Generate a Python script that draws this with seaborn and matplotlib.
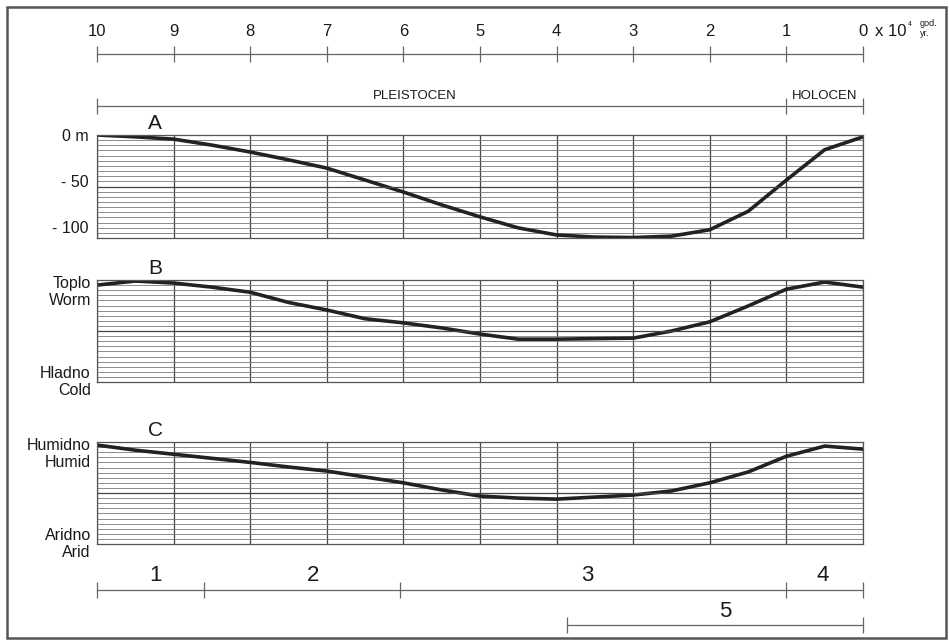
import numpy as np
import pandas as pd
import matplotlib.pyplot as plt
import seaborn as sns
from matplotlib.patches import Rectangle

# time axis, x 10^4 years before present
years = [10, 9.5, 9, 8.5, 8, 7.5, 7, 6.5, 6, 5.5, 5, 4.5, 4, 3.5, 3, 2.5, 2, 1.5, 1, 0.5, 0]
time_ticks = [10, 9, 8, 7, 6, 5, 4, 3, 2, 1, 0]

# A: sea level (m)
sea_level = [0, -2, -4.5, -11, -18.5, -27, -36, -49, -62, -76, -89, -101, -108.7, -111,
             -111.5, -110, -103, -83, -49, -16, -2]
# B: temperature, C: humidity (0 = cold/arid, 100 = warm/humid)
temperature = [95, 99, 97, 93, 88, 78, 70.6, 62, 58, 53, 47, 42, 42, 42.5, 43, 50, 59,
               74.5, 91, 98, 93]
humidity = [97, 92, 88, 84, 80, 75.5, 71.5, 65.7, 60, 53, 47, 45, 44, 46, 48, 52, 60,
            70.6, 86, 96, 93]

epochs = ['PLEISTOCEN', 'HOLOCEN']
epoch_bounds = [10, 1, 0]
epoch_label_x = [5.85, 0.5]

stage_labels = ['1', '2', '3', '4']
stage_bounds = [10, 8.6, 6.05, 1, 0]
stage_label_x = [9.24, 7.18, 3.6, 0.52]
stage5 = [3.86, 0]
stage5_label_x = 1.8

df = pd.DataFrame({'t': years, 'A': sea_level, 'B': temperature, 'C': humidity})

sns.set_theme(style='white')
plt.rcParams['font.family'] = ['Liberation Sans', 'DejaVu Sans']

W, H = 949, 640
fig = plt.figure(figsize=(W / 100, H / 100), dpi=100)
fig.patch.set_facecolor('white')

L = 97 / W
WD = 766 / W
LINE = '#222222'
TXT = '#1a1a1a'


def fy(px):
    return 1 - px / H


def panel(top, bottom, col, ylim, letter):
    ax = fig.add_axes([L, fy(bottom), WD, (bottom - top) / H])
    sns.lineplot(data=df, x='t', y=col, ax=ax, color=LINE, lw=2.6, sort=False)
    ax.set_xlim(10, 0)
    ax.set_ylim(*ylim)
    ax.set_xticks(time_ticks)
    ax.set_yticks(np.linspace(ylim[0], ylim[1], 21), minor=True)
    ax.set_yticks([])
    ax.grid(True, axis='x', which='major', color='#444444', lw=0.9)
    ax.grid(True, axis='y', which='minor', color='#7a7a7a', lw=0.6)
    ax.axhline((ylim[0] + ylim[1]) / 2, color='#444444', lw=0.9)
    ax.tick_params(length=0, labelbottom=False, labelleft=False)
    ax.set_xlabel('')
    ax.set_ylabel('')
    for s in ax.spines.values():
        s.set_color('#555555')
        s.set_linewidth(0.9)
    ax.text(9.24, 1.02, letter, transform=ax.get_xaxis_transform(), ha='center',
            va='bottom', fontsize=15, color=TXT)
    return ax


axA = panel(135, 238, 'A', (-112, 0), 'A')
axA.set_yticks([0, -50, -100])
axA.set_yticklabels(['0 m', '- 50', '- 100'])
axA.tick_params(axis='y', labelleft=True, labelsize=11.5, pad=6, colors=TXT)

axB = panel(280, 382, 'B', (0, 100), 'B')
axC = panel(442, 544, 'C', (0, 100), 'C')

for ax, top_lbl, bot_lbl in [(axB, 'Toplo\nWorm', 'Hladno\nCold'),
                             (axC, 'Humidno\nHumid', 'Aridno\nArid')]:
    ax.text(-0.008, 1.04, top_lbl, transform=ax.transAxes, ha='right', va='top',
            fontsize=11.5, color=TXT, linespacing=1.15)
    ax.text(-0.008, 0.0, bot_lbl, transform=ax.transAxes, ha='right', va='center',
            fontsize=11.5, color=TXT, linespacing=1.15)


def scale_axis(ypx, ticks):
    ax = fig.add_axes([L, fy(ypx), WD, 0])
    ax.set_xlim(10, 0)
    ax.set_facecolor('none')
    for k, s in ax.spines.items():
        s.set_visible(k == 'top')
    ax.spines['top'].set_color('#666666')
    ax.spines['top'].set_linewidth(0.9)
    ax.set_xticks(ticks)
    ax.set_yticks([])
    ax.tick_params(axis='x', top=True, bottom=False, labelbottom=False, labeltop=False,
                   direction='inout', length=11, width=0.9, color='#666666')
    return ax


def label(ax, text, x, size, dy):
    ax.annotate(text, (x, 0), xytext=(0, dy), textcoords='offset points',
                ha='center', va='bottom', fontsize=size, color=TXT,
                annotation_clip=False)


# top time axis
axT = scale_axis(54, time_ticks)
axT.set_xticklabels([str(t) for t in time_ticks])
axT.tick_params(axis='x', labeltop=True, labelsize=12, pad=5, labelcolor=TXT)
fig.text(875 / W, fy(31), 'x 10', fontsize=12, va='center', ha='left', color=TXT)
fig.text(908 / W, fy(25), '4', fontsize=5, va='center', ha='left', color=TXT)
fig.text(920 / W, fy(23), 'god.', fontsize=6.5, va='center', ha='left', color=TXT)
fig.text(920 / W, fy(34), 'yr.', fontsize=6.5, va='center', ha='left', color=TXT)

# epochs
axE = scale_axis(106, epoch_bounds)
for name, x in zip(epochs, epoch_label_x):
    label(axE, name, x, 9.5, 3)

# stages 1-4
axS = scale_axis(590, stage_bounds)
for lbl, x in zip(stage_labels, stage_label_x):
    label(axS, lbl, x, 16, 3)

# stage 5
ax5 = scale_axis(625, stage5)
ax5.spines['top'].set_bounds(stage5[0], stage5[1])
label(ax5, '5', stage5_label_x, 16, 2)

fig.patches.append(Rectangle((7 / W, 2 / H), 939 / W, 631 / H, transform=fig.transFigure,
                             fill=False, edgecolor='#555555', lw=1.8))

fig.savefig('out.png', dpi=100, facecolor='white')
